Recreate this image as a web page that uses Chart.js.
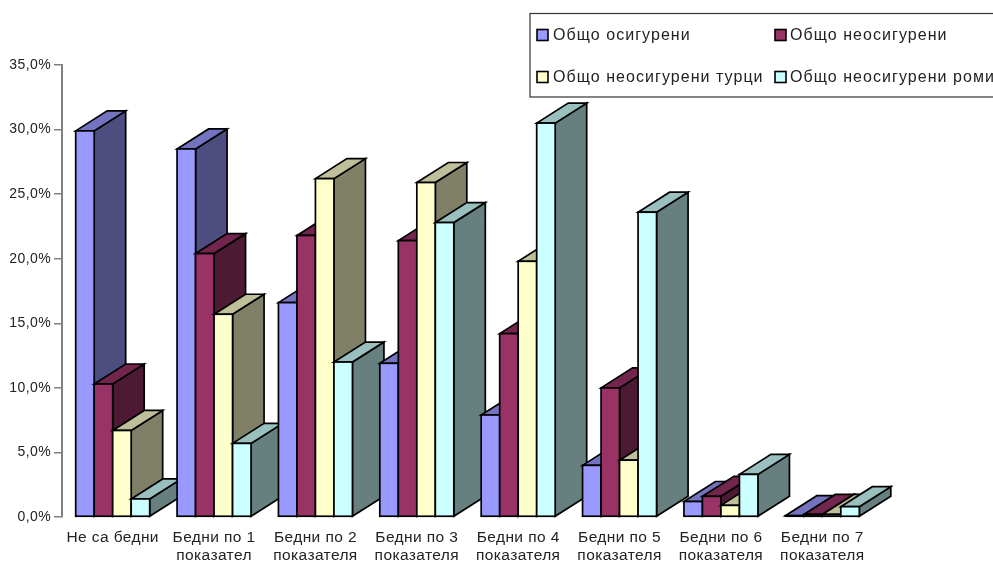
<!DOCTYPE html>
<html>
<head>
<meta charset="utf-8">
<style>html,body{margin:0;padding:0;background:#fff;overflow:hidden}canvas{display:block}</style>
<script src="https://cdn.jsdelivr.net/npm/chart.js@4/dist/chart.umd.min.js"></script>
</head>
<body>
<canvas id="c" width="993" height="561"></canvas>
<script>
const categories = [
  "Не са бедни",
  ["Бедни по 1", "показател"],
  ["Бедни по 2", "показателя"],
  ["Бедни по 3", "показателя"],
  ["Бедни по 4", "показателя"],
  ["Бедни по 5", "показателя"],
  ["Бедни по 6", "показателя"],
  ["Бедни по 7", "показателя"]
];
const insured      = [29.9, 28.5, 16.6, 11.9, 7.9, 4.0, 1.2, 0.1];
const uninsured    = [10.3, 20.4, 21.8, 21.4, 14.2, 10.0, 1.6, 0.2];
const turks        = [6.7, 15.7, 26.2, 25.9, 19.8, 4.4, 0.9, 0.2];
const roma         = [1.4, 5.7, 12.0, 22.8, 30.5, 23.6, 3.3, 0.8];
const seriesNames  = ["Общо осигурени", "Общо неосигурени", "Общо неосигурени турци", "Общо неосигурени роми"];
const frontColors  = ["#9999FF", "#993366", "#FFFFCC", "#CCFFFF"];
const topColors    = ["#7373BF", "#73264D", "#BFBF99", "#99BFBF"];
const sideColors   = ["#4D4D80", "#4D1A33", "#808066", "#668080"];
const yTicks       = [0, 5, 10, 15, 20, 25, 30, 35];

const FONT = '"Liberation Sans", Arial, sans-serif';
const TEXT_COLOR = "#222";
const DEPTH_X = 31.5, DEPTH_Y = -20;

function poly(ctx, pts, fill) {
  ctx.beginPath();
  pts.forEach((p, i) => i ? ctx.lineTo(p[0], p[1]) : ctx.moveTo(p[0], p[1]));
  ctx.closePath();
  ctx.fillStyle = fill;
  ctx.fill();
  ctx.stroke();
}

// Extrudes each bar: category by category, series by series, so nearer faces overlap correctly.
const extrudedBars = {
  id: "extrudedBars",
  beforeDraw(chart) { chart.ctx.letterSpacing = "0.4px"; },
  beforeDatasetDraw() { return false; },
  afterDatasetsDraw(chart) {
    const ctx = chart.ctx;
    ctx.save();
    ctx.strokeStyle = "#000";
    ctx.lineWidth = 1.7;
    ctx.lineJoin = "miter";
    categories.forEach((_, i) => {
      chart.data.datasets.forEach((ds, d) => {
        const bar = chart.getDatasetMeta(d).data[i];
        const l = bar.x - bar.width / 2, r = bar.x + bar.width / 2;
        const t = bar.y, b = bar.base;
        poly(ctx, [[r, b], [r + DEPTH_X, b + DEPTH_Y], [r + DEPTH_X, t + DEPTH_Y], [r, t]], sideColors[d]);
        poly(ctx, [[l, t], [l + DEPTH_X, t + DEPTH_Y], [r + DEPTH_X, t + DEPTH_Y], [r, t]], topColors[d]);
        bar.draw(ctx);
        ctx.strokeRect(l, t, r - l, b - t);
      });
    });
    ctx.restore();
  }
};

// Two-column boxed key in the upper right, running off the canvas edge.
const boxedKey = {
  id: "boxedKey",
  afterDraw(chart) {
    const ctx = chart.ctx;
    const cols = [537, 775], rows = [35, 77];
    ctx.save();
    ctx.fillStyle = "#fff";
    ctx.strokeStyle = "#333";
    ctx.lineWidth = 1.2;
    ctx.fillRect(530, 13.5, 480, 83.5);
    ctx.strokeRect(530, 13.5, 480, 83.5);
    ctx.font = "16px " + FONT;
    ctx.letterSpacing = "1.05px";
    ctx.textBaseline = "middle";
    seriesNames.forEach((name, i) => {
      const x = cols[i % 2], y = rows[i >> 1];
      ctx.fillStyle = frontColors[i];
      ctx.strokeStyle = "#000";
      ctx.lineWidth = 1.6;
      ctx.fillRect(x, y - 5.5, 11, 11);
      ctx.strokeRect(x, y - 5.5, 11, 11);
      ctx.fillStyle = TEXT_COLOR;
      ctx.fillText(name, x + (i % 2 ? 15 : 16), y + 0.5);
    });
    ctx.restore();
  }
};

const makeSet = (label, data, i) => ({
  label, data,
  backgroundColor: frontColors[i],
  borderWidth: 0,
  barPercentage: 1,
  categoryPercentage: 0.73
});

new Chart(document.getElementById("c"), {
  type: "bar",
  data: {
    labels: categories,
    datasets: [insured, uninsured, turks, roma].map((d, i) => makeSet(seriesNames[i], d, i))
  },
  options: {
    responsive: false,
    animation: false,
    layout: { padding: { top: 65, right: 120, bottom: 0, left: 0 } },
    plugins: { legend: { display: false }, tooltip: { enabled: false } },
    scales: {
      x: {
        afterFit(s) { s.height = 44; },
        grid: { display: false, drawTicks: false },
        border: { display: false },
        ticks: {
          padding: 11,
          maxRotation: 0,
          autoSkip: false,
          color: TEXT_COLOR,
          font: { family: FONT, size: 15.5, lineHeight: 1.2 }
        }
      },
      y: {
        min: 0,
        max: 35,
        afterFit(s) { s.width = 62; },
        afterBuildTicks(s) { s.ticks = yTicks.map(v => ({ value: v })); },
        grid: { drawOnChartArea: false, color: "#808080", lineWidth: 1.5, tickLength: 8 },
        border: { color: "#808080", width: 2 },
        ticks: {
          padding: 3,
          color: TEXT_COLOR,
          font: { family: FONT, size: 14 },
          callback: v => v.toFixed(1).replace(".", ",") + "%"
        }
      }
    }
  },
  plugins: [extrudedBars, boxedKey]
});
</script>
</body>
</html>
